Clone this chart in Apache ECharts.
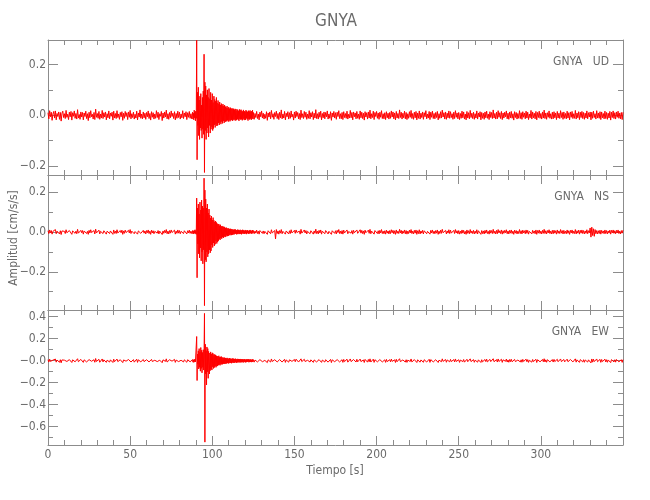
<!DOCTYPE html>
<html>
<head>
<meta charset="utf-8">
<script src="https://cdn.jsdelivr.net/npm/echarts@6/dist/echarts.min.js"></script>
<style>html,body{margin:0;padding:0;background:#fff}#c{width:650px;height:500px}</style>
</head>
<body>
<div id="c"></div>
<script>
// ---- DATA (acceleration in 10^-3 cm/s/s) ----
const stationName = 'GNYA';
const components = ['UD', 'NS', 'EW'];
const xTicks = [0, 50, 100, 150, 200, 250, 300];
// sampling of the three segments [start time s, step s]
const preSeg = [0, 0.5];
const eventSeg = [88, 0.25];
const postSeg = [125, 0.5];
const yRanges = [[-0.235, 0.296], [-0.392, 0.286], [-0.766, 0.461]];

const udPre = [
10,-14,18,-6,12,-20,5,15,-11,17,-18,7,-5,13,-16,11,-23,8,16,-9,
6,-13,19,-8,4,-17,12,-6,15,-19,10,-4,17,-12,7,-15,22,-11,3,-16,
13,-7,11,-18,9,-5,16,-13,6,-21,12,-10,18,-6,4,-15,11,-17,24,-8,
7,-12,15,-16,5,-11,19,-13,10,-7,13,-18,6,-10,17,-14,9,-4,12,-19,
16,-11,7,-13,18,-9,5,-16,11,-6,14,-20,8,-12,15,-5,10,-17,13,-8,
19,-14,6,-9,12,-15,4,-11,16,-18,9,-7,21,-12,5,-14,13,-10,8,-16,
11,-6,17,-13,7,-19,14,-8,10,-15,5,-12,18,-9,12,-17,6,-4,15,-21,
9,-11,13,-7,20,-14,6,-16,11,-10,17,-5,8,-13,14,-18,7,-12,16,-9,
12,-15,5,-10,18,-13,9,-6,14,-17,10,-8,15,-12,6,-14];
const udEvent = [
12,-15,8,-18,20,-10,14,-22,16,-12,295,-175,90,-40,110,-80,60,-95,75,-50,
85,-60,40,-90,70,-55,95,-75,240,-225,130,-60,115,-95,80,-70,100,-50,70,-85,
105,-40,65,-70,90,-55,60,-45,85,-60,50,-52,75,-38,62,-48,55,-35,70,-42,
48,-40,58,-30,45,-38,52,-28,40,-35,46,-25,38,-32,44,-22,36,-30,40,-24,
34,-26,30,-22,36,-20,28,-25,32,-18,26,-24,30,-20,25,-18,28,-22,24,-17,
26,-20,22,-16,25,-21,18,-19,24,-15,21,-18,17,-22,23,-14,19,-17,22,-16,
18,-20,15,-17,21,-13,16,-19,14,-18,20,-12,17,-16,13,-21,18,-14,15,-17,
19,-13,14,-18,16,-12,20,-15];
const udPost = [
11,-16,7,-9,15,-13,5,-18,12,-6,17,-11,8,-15,4,-12,14,-20,9,-7,
13,-14,19,-8,6,-16,11,-5,16,-13,7,-17,12,-10,21,-14,5,-11,15,-18,
8,-6,14,-15,10,-12,17,-7,4,-19,13,-11,16,-5,11,-14,7,-17,20,-9,
6,-13,15,-8,12,-16,5,-12,18,-14,10,-7,14,-17,8,-11,22,-13,6,-15,
12,-8,16,-18,7,-10,13,-14,11,-6,17,-15,5,-12,14,-20,9,-7,15,-11,
10,-16,12,-5,18,-13,6,-14,11,-17,14,-9,7,-12,16,-15,4,-11,19,-10,
11,-18,13,-6,9,-14,15,-12,5,-16,17,-10,12,-13,8,-19,14,-7,10,-15,
13,-11,20,-14,6,-9,16,-17,11,-5,15,-12,9,-16,12,-8,18,-13,6,-14,
10,-17,14,-10,8,-15,11,-12,17,-7,13,-14,9,-18,15,-11,7,-13,21,-9,
12,-15,8,-10,16,-14,11,-17,6,-12,14,-8,19,-13,7,-16,12,-10,15,-18,
9,-12,17,-15,8,-9,13,-16,10,-6,18,-14,5,-11,15,-17,12,-8,16,-13,
7,-14,11,-9,15,-18,6,-12,14,-11,20,-7,10,-15,13,-16,8,-10,17,-12,
14,-9,6,-16,12,-13,18,-8,9,-14,11,-17,7,-12,16,-10,13,-15,5,-18,
15,-11,10,-14,19,-9,8,-13,12,-16,6,-11,17,-15,9,-7,14,-18,11,-12,
8,-16,13,-10,16,-12,5,-17,14,-9,11,-13,21,-11,7,-15,12,-14,18,-8,
10,-13,15,-17,9,-11,12,-6,17,-14,8,-16,13,-10,15,-12,6,-19,14,-9,
11,-15,7,-12,18,-13,10,-16,14,-8,9,-14,16,-11,12,-17,5,-10,19,-15,
13,-10,8,-14,15,-18,11,-9,16,-12,7,-15,13,-11,20,-13,9,-16,10,-8,
17,-12,6,-15,12,-14,14,-10,9,-17,15,-11,8,-13,18,-9,11,-16,13,-12,
7,-14,16,-11,10,-18,13,-8,15,-13,6,-12,19,-15,9,-10,14,-17,12,-9,
15,-13,11,-16,8,-11,17,-14,10,-7,13,-18,12,-12,16,-9,6,-15,18,-11,
9,-12,14,-17,13,-10,7,-14,16,-13,11,-16,8,-11,15,-19,12,-9,17,-13,
10,-15,13,-8,16,-12,9,-14,11,-17,12];

const nsPre = [
6,-8,10,-4,7,-11,3,9,-6,12,-9,4,-3,8,-10,6,-13,5,9,-5,
3,-8,11,-4,2,-10,7,-3,9,-12,5,-2,10,-7,4,-9,13,-6,1,-10,
8,-4,7,-11,5,-3,10,-8,3,-12,8,-5,11,-3,2,-9,7,-10,14,-5,
4,-7,9,-10,3,-6,12,-8,6,-4,8,-11,4,-6,10,-8,5,-2,7,-12,
10,-7,4,-8,11,-5,3,-10,7,-4,9,-12,5,-7,9,-3,6,-10,8,-5,
12,-8,4,-6,7,-9,2,-7,10,-11,5,-4,13,-7,3,-9,8,-6,5,-10,
7,-4,10,-8,4,-12,9,-5,6,-9,3,-7,11,-6,7,-10,4,-2,9,-13,
5,-7,8,-4,12,-9,4,-10,7,-6,10,-3,5,-8,9,-11,4,-7,10,-6,
7,-9,3,-6,11,-8,6,-4,9,-10,6,-5,9,-7,4,-8];
const nsEvent = [
7,-9,5,-10,8,-6,11,-8,6,-12,170,-230,120,-60,140,-110,90,-130,150,-80,
110,-145,160,-100,130,-160,120,-90,270,-370,210,-140,165,-150,120,-100,140,-125,95,-110,
115,-90,85,-105,70,-95,80,-65,60,-78,72,-55,58,-70,50,-62,55,-45,48,-58,
42,-50,38,-44,40,-35,32,-40,36,-30,28,-34,30,-26,25,-30,27,-22,24,-26,
20,-24,22,-18,19,-21,16,-20,18,-15,14,-17,16,-13,15,-16,12,-14,13,-12,
11,-13,12,-10,13,-9,10,-12,9,-11,12,-8,10,-11,8,-10,11,-9,7,-12,
9,-8,11,-7,8,-10,6,-9,10,-7,8,-11,7,-6,9,-8,5,-10,8,-7,
10,-6,7,-9,6,-8,9,-5];
const nsPost = [
7,-9,5,-6,9,-8,4,-11,7,-3,10,-7,5,-9,3,-7,8,-12,6,-4,
8,-9,11,-5,4,-10,7,-35,12,-8,5,-11,7,-6,12,-9,3,-7,9,-11,
5,-4,9,-10,6,-8,11,-5,3,-12,8,-7,10,-3,7,-9,4,-11,13,-6,
4,-8,10,-5,7,-10,3,-7,11,-9,6,-4,9,-11,5,-7,14,-8,4,-10,
8,-5,10,-11,4,-6,8,-9,7,-3,11,-10,3,-7,9,-12,6,-4,10,-7,
6,-10,8,-3,12,-8,4,-9,7,-11,9,-5,4,-8,10,-9,2,-7,12,-6,
7,-11,8,-4,6,-9,10,-7,3,-10,11,-6,8,-8,5,-12,9,-4,6,-10,
9,-7,13,-9,4,-6,10,-11,7,-3,10,-8,6,-10,8,-5,12,-8,4,-9,
6,-11,9,-6,5,-10,7,-8,11,-4,8,-9,6,-12,10,-7,4,-8,13,-5,
8,-10,5,-6,10,-9,7,-11,4,-8,9,-5,12,-8,4,-10,8,-6,10,-12,
6,-8,11,-10,5,-6,8,-10,6,-4,12,-9,3,-7,10,-11,8,-5,10,-8,
4,-9,7,-6,10,-12,4,-8,9,-7,13,-4,6,-10,8,-10,5,-6,11,-8,
9,-6,4,-10,8,-8,12,-5,6,-9,7,-11,4,-8,10,-6,8,-10,3,-12,
10,-7,6,-9,12,-6,5,-8,8,-10,4,-7,11,-10,6,-4,9,-12,7,-8,
5,-10,8,-6,10,-8,3,-11,9,-6,7,-8,13,-7,4,-10,8,-9,12,-5,
6,-8,10,-11,6,-7,8,-4,11,-9,5,-10,8,-6,10,-8,4,-12,9,-6,
7,-10,4,-8,12,-8,6,-10,9,-5,6,-9,10,-7,8,-11,3,-6,12,-10,
8,-6,5,-9,10,-12,7,-6,10,-8,4,-10,8,-7,13,-8,6,-10,7,-5,
11,-8,4,-10,8,-9,9,-6,6,-11,10,-7,5,-8,12,-6,7,-10,8,-8,
4,-9,10,-7,6,-12,8,-5,10,-8,4,-8,12,-10,6,-6,9,-11,8,-6,
10,-8,7,-10,5,-7,11,-9,6,-5,20,-26,24,-18,16,-22,12,-9,7,-10,
6,-8,9,-11,8,-6,5,-9,10,-8,7,-10,5,-6,9,-11,8,-5,10,-7,
6,-9,8,-5,10,-8,4,-10,7,-6,9];

const ewPre = [
9,-12,14,-6,10,-16,5,13,-9,15,-13,6,-5,12,-14,9,-19,7,13,-8,
5,-12,16,-7,4,-14,10,-5,13,-16,8,-4,14,-10,6,-13,18,-9,3,-14,
12,-6,10,-15,8,-4,14,-11,5,-17,10,-8,15,-5,4,-13,9,-14,20,-7,
6,-10,13,-14,4,-9,16,-11,8,-6,11,-15,5,-9,14,-12,8,-3,10,-16,
14,-9,6,-11,15,-8,4,-13,9,-5,12,-17,7,-10,13,-4,8,-14,11,-7,
16,-12,5,-8,10,-13,3,-9,14,-15,8,-6,18,-10,4,-12,11,-8,7,-14,
9,-5,14,-11,6,-16,12,-7,8,-13,4,-10,15,-8,10,-14,5,-3,13,-18,
8,-9,11,-6,17,-12,5,-14,9,-8,14,-4,7,-11,12,-15,6,-10,14,-8,
10,-13,4,-8,15,-11,8,-5,12,-14,9,-7,13,-10,5,-12];
const ewEvent = [
10,-13,8,-15,12,-9,14,-11,7,-16,220,-180,60,-30,90,-75,110,-60,80,-95,
120,-70,95,-110,75,-60,100,-85,65,430,-740,150,-120,90,-220,125,-100,110,-160,85,
95,-120,70,-90,80,-75,60,-85,72,-55,65,-70,50,-62,58,-48,52,-60,45,-50,
42,-48,38,-40,45,-36,32,-42,35,-30,38,-34,28,-32,30,-27,26,-30,28,-24,
25,-28,22,-24,26,-20,21,-25,19,-22,23,-18,20,-21,17,-23,19,-16,21,-18,
18,-20,15,-17,19,-14,16,-18,13,-16,17,-12,15,-17,14,-13,16,-15,12,-14,
15,-12,13,-16,11,-14,14,-10,12,-15,10,-13,14,-11,12,-9,13,-14,10,-12,
13,-10,11,-13,9,-12,12,-10];
const ewPost = [
10,-13,6,-8,13,-11,4,-15,10,-5,14,-9,7,-13,3,-10,12,-17,8,-6,
11,-12,16,-7,5,-14,9,-4,14,-11,6,-15,10,-8,18,-12,4,-9,13,-15,
7,-5,12,-13,8,-10,15,-6,3,-16,11,-9,14,-4,9,-12,6,-14,17,-8,
5,-11,13,-7,10,-14,4,-10,15,-12,8,-6,12,-15,7,-9,19,-11,5,-13,
10,-7,14,-15,6,-8,11,-12,9,-5,15,-13,4,-10,12,-17,8,-6,13,-9,
8,-14,10,-4,16,-11,5,-12,9,-15,12,-8,6,-10,14,-13,3,-9,16,-8,
9,-15,11,-5,8,-12,13,-10,4,-14,15,-8,10,-11,7,-16,12,-6,8,-13,
11,-9,17,-12,5,-8,14,-15,9,-4,13,-10,8,-14,10,-7,15,-11,5,-12,
8,-15,12,-8,7,-13,9,-10,15,-6,11,-12,8,-16,13,-9,6,-11,18,-8,
10,-13,7,-9,14,-12,9,-15,5,-10,12,-7,16,-11,6,-14,10,-8,13,-16,
8,-10,15,-13,7,-8,11,-14,9,-5,16,-12,4,-9,13,-15,10,-7,14,-11,
6,-12,9,-8,13,-16,5,-10,12,-9,17,-6,8,-13,11,-14,7,-8,15,-10,
12,-8,5,-14,10,-11,16,-7,8,-12,9,-15,6,-10,14,-8,11,-13,4,-16,
13,-9,8,-12,17,-8,7,-11,10,-14,5,-9,15,-13,8,-6,12,-16,9,-10,
7,-14,11,-8,14,-10,4,-15,12,-8,9,-11,18,-9,6,-13,10,-12,16,-7,
8,-11,13,-15,8,-9,10,-5,15,-12,7,-14,11,-8,13,-10,5,-17,12,-8,
9,-13,6,-10,16,-11,8,-14,12,-7,8,-12,14,-9,10,-15,4,-8,17,-13,
11,-8,7,-12,13,-16,9,-8,14,-10,6,-13,11,-9,18,-11,8,-14,9,-7,
15,-10,5,-13,10,-12,12,-8,8,-15,13,-9,7,-11,16,-8,9,-14,11,-10,
6,-12,14,-9,8,-16,11,-7,13,-11,5,-10,17,-13,8,-8,12,-15,10,-8,
13,-11,9,-14,7,-9,15,-12,8,-6,18,-20,16,-13,14,-8,5,-13,16,-9,
8,-10,12,-15,11,-8,6,-12,14,-11,9,-14,7,-9,13,-17,10,-8,15,-11,
9,-13,11,-7,14,-10,8,-12,9,-15,10];

// ---- build ----
function seg(sd, vals) { return vals.map((v, k) => [sd[0] + k * sd[1], v / 1000]); }
const traces = [
  seg(preSeg, udPre).concat(seg(eventSeg, udEvent), seg(postSeg, udPost)),
  seg(preSeg, nsPre).concat(seg(eventSeg, nsEvent), seg(postSeg, nsPost)),
  seg(preSeg, ewPre).concat(seg(eventSeg, ewEvent), seg(postSeg, ewPost))
];

const FONT = "'DejaVu Sans Condensed', 'Liberation Sans Narrow', 'Roboto', sans-serif";
const AX = '#8c8c8c';
const TX = '#6a6a6a';
const tops = [40, 175, 310];
const H = 135;
const splitNums = [3, 3, 6];

const grids = [], xAxes = [], yAxes = [], series = [];
for (let i = 0; i < 3; i++) {
  grids.push({ left: 48, right: 27, top: tops[i], height: H, containLabel: false });
  const xBase = {
    type: 'value', gridIndex: i, min: 0, max: 350, interval: 50,
    axisLine: { show: true, onZero: false, lineStyle: { color: AX, width: 1 } },
    axisTick: { show: true, inside: true, length: 9, lineStyle: { color: AX } },
    minorTick: { show: true, splitNumber: 5, length: 5, lineStyle: { color: AX } },
    splitLine: { show: false }, minorSplitLine: { show: false }
  };
  xAxes.push(Object.assign({}, xBase, {
    position: 'bottom',
    axisLabel: {
      show: i === 2, margin: 4, fontFamily: FONT, fontSize: 12, color: TX,
      formatter: v => (xTicks.indexOf(v) >= 0 ? String(v) : '')
    }
  }));
  xAxes.push(Object.assign({}, xBase, { position: 'top', axisLabel: { show: false } }));
  const isEW = i === 2;
  const yBase = {
    type: 'value', gridIndex: i, min: yRanges[i][0], max: yRanges[i][1], splitNumber: splitNums[i],
    scale: true,
    axisLine: { show: true, onZero: false, lineStyle: { color: AX, width: 1 } },
    axisTick: { show: true, inside: true, length: 10, lineStyle: { color: AX } },
    minorTick: { show: true, splitNumber: 2, length: 5, lineStyle: { color: AX } },
    splitLine: { show: false }, minorSplitLine: { show: false }
  };
  yAxes.push(Object.assign({}, yBase, {
    position: 'left',
    axisLabel: {
      show: true, margin: 2, fontFamily: FONT, fontSize: 12, color: TX,
      formatter: function (v) {
        const r = v / 0.2;
        if (Math.abs(r - Math.round(r)) > 1e-6) return '';
        if (Math.abs(v) < 1e-9) return isEW ? '\u22120.0' : '0.0';
        return (v < 0 ? '\u2212' : '') + Math.abs(v).toFixed(1);
      }
    }
  }));
  yAxes.push(Object.assign({}, yBase, { position: 'right', axisLabel: { show: false } }));
  series.push({
    type: 'line', xAxisIndex: 2 * i, yAxisIndex: 2 * i, data: traces[i],
    showSymbol: false, symbol: 'none', sampling: null, clip: true,
    lineStyle: { color: '#ff0000', width: 1 }, itemStyle: { color: '#ff0000' },
    silent: true, animation: false
  });
}

const graphics = [
  { type: 'text', x: 336, y: 22, style: { text: stationName, fontFamily: FONT, fontSize: 17, fill: TX, align: 'center', verticalAlign: 'middle' } },
  { type: 'text', x: 335, y: 471, style: { text: 'Tiempo [s]', fontFamily: FONT, fontSize: 12, fill: TX, align: 'center', verticalAlign: 'middle' } },
  { type: 'text', x: 14, y: 238, rotation: Math.PI / 2, style: { text: 'Amplitud [cm/s/s]', fontFamily: FONT, fontSize: 12, fill: TX, align: 'center', verticalAlign: 'middle' } }
];
for (let i = 0; i < 3; i++) {
  graphics.push({ type: 'text', x: 609, y: tops[i] + 22, style: { text: stationName + '   ' + components[i], fontFamily: FONT, fontSize: 12, fill: TX, align: 'right', verticalAlign: 'middle' } });
}

const chart = echarts.init(document.getElementById('c'), null, { renderer: 'canvas' });
chart.setOption({
  animation: false,
  backgroundColor: '#ffffff',
  grid: grids, xAxis: xAxes, yAxis: yAxes, series: series,
  graphic: graphics
});
</script>
</body>
</html>
